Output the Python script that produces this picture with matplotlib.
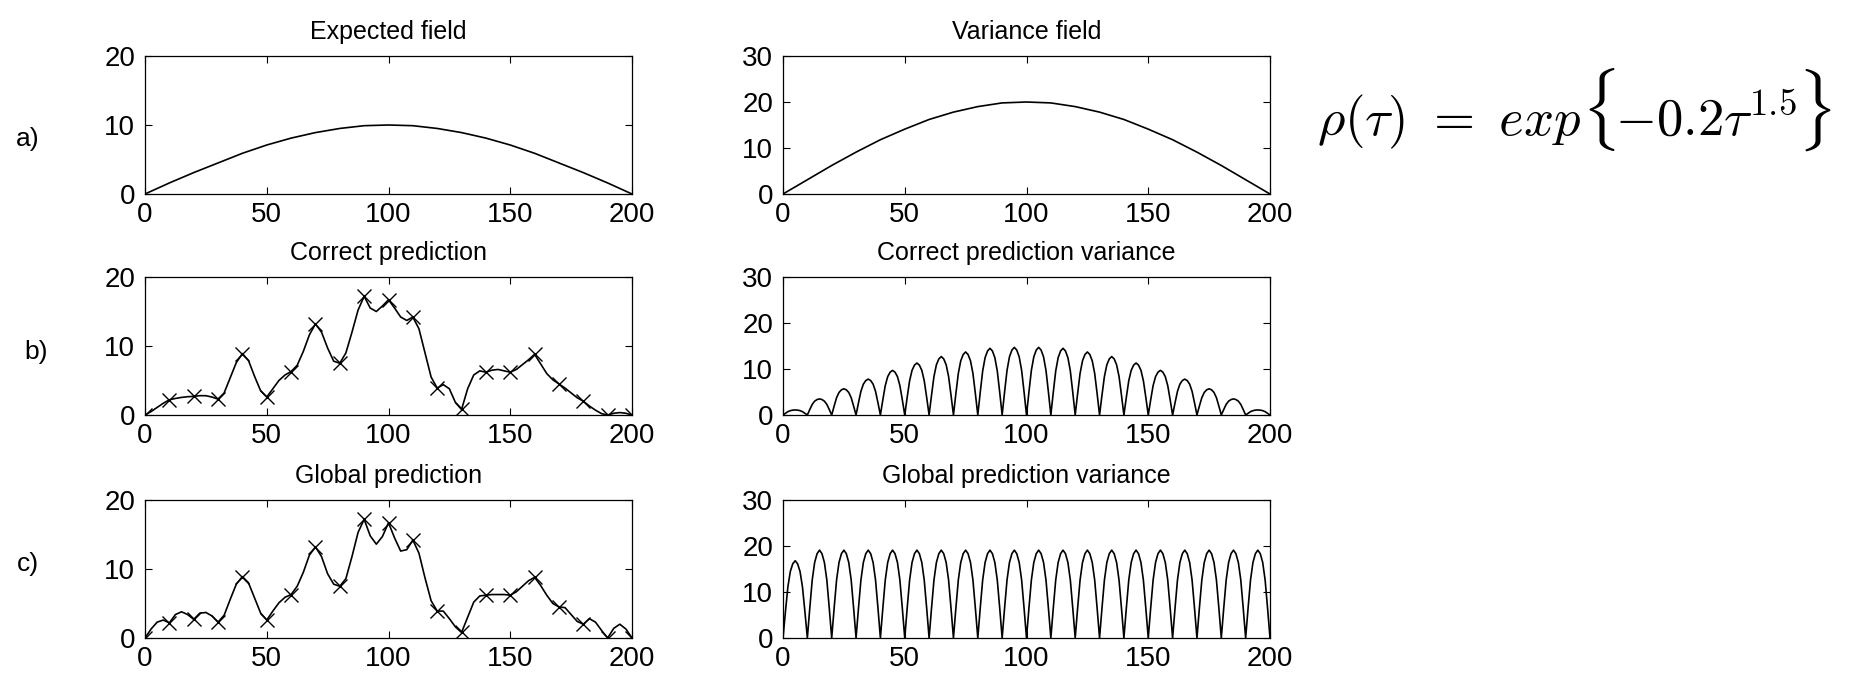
import matplotlib.pyplot as plt
import numpy as np
from matplotlib.offsetbox import TextArea, HPacker, AnnotationBbox

plt.rcParams['font.family'] = ['Liberation Sans', 'DejaVu Sans']
plt.rcParams['mathtext.fontset'] = 'cm'

# --- data ---
FIELD_X = np.arange(0, 201, 10)
EXPECTED = [0, 1.6, 3.1, 4.5, 5.9, 7.1, 8.1, 8.9, 9.5, 9.9, 10.0,
            9.9, 9.5, 8.9, 8.1, 7.1, 5.9, 4.5, 3.1, 1.6, 0]
VARIANCE = [0, 3.1, 6.2, 9.1, 11.8, 14.1, 16.2, 17.8, 19.0, 19.8, 20.0,
            19.8, 19.0, 17.8, 16.2, 14.1, 11.8, 9.1, 6.2, 3.1, 0]

# predictions sampled every 2.5; observations (crosses) sit every 10
CURVE_X = np.arange(0, 200.1, 2.5)
CORRECT_PRED = [0, 0.5, 1.1, 1.7, 2.2, 2.4, 2.55, 2.65, 2.7, 2.8, 2.8, 2.6,
                2.3, 3.2, 5.4, 7.6, 8.9, 7.9, 5.6, 3.5, 2.6, 3.8, 5.0, 5.8,
                6.3, 7.2, 9.2, 11.6, 13.2, 12.0, 9.7, 7.8, 7.5, 9.0, 12.0, 15.2,
                17.2, 15.5, 15.0, 15.8, 16.7, 15.5, 14.2, 13.7, 14.2, 12.5, 9.0, 5.5,
                3.9, 4.4, 3.8, 1.8, 0.8, 3.8, 5.8, 6.4, 6.2, 6.5, 6.6, 6.4,
                6.2, 6.6, 7.3, 8.0, 8.8, 7.4, 6.0, 5.1, 4.5, 3.9, 3.2, 2.5,
                2.0, 1.3, 0.7, 0.2, 0.0, 0.25, 0.35, 0.25, 0.0]
GLOBAL_PRED = [0, 1.3, 2.3, 2.6, 2.2, 3.4, 3.8, 3.4, 2.7, 3.6, 3.7, 3.2,
               2.3, 3.3, 5.6, 7.8, 8.9, 8.0, 5.8, 3.6, 2.6, 3.9, 5.1, 5.9,
               6.3, 7.5, 9.5, 12.0, 13.2, 11.8, 9.3, 7.8, 7.5, 8.6, 11.8, 15.3,
               17.2, 14.8, 13.6, 14.7, 16.7, 14.5, 12.6, 12.8, 14.2, 12.3, 8.7, 5.4,
               3.9, 3.9, 2.8, 1.6, 0.8, 3.0, 5.2, 6.1, 6.2, 6.3, 6.3, 6.3,
               6.2, 6.7, 7.5, 8.3, 8.8, 7.6, 6.2, 5.0, 4.5, 4.4, 3.4, 2.4,
               2.0, 2.8, 2.3, 1.1, 0.0, 1.4, 2.0, 1.3, 0.0]

# prediction variance: one arch between neighbouring observations
ARCH_PROFILE = [0, 0.34, 0.66, 0.86, 0.96, 1.0, 0.96, 0.86, 0.66, 0.34]
CORRECT_VAR_PEAKS = [1.1, 3.5, 5.7, 7.8, 9.7, 11.3, 12.7, 13.7, 14.5, 14.7,
                     14.7, 14.5, 13.7, 12.7, 11.3, 9.7, 7.8, 5.7, 3.5, 1.1]
GLOBAL_VAR_PEAKS = [16.8] + [19.1] * 19


def arches(peaks):
    ys = [p * f for p in peaks for f in ARCH_PROFILE] + [0]
    return np.arange(len(ys)), ys


def style(ax, ymax, title):
    ax.set_xlim(0, 200)
    ax.set_ylim(0, ymax)
    ax.set_xticks([0, 50, 100, 150, 200])
    ax.set_yticks(range(0, ymax + 1, 10))
    ax.tick_params(direction='in', top=True, right=True, length=5,
                   width=0.8, labelsize=20)
    ax.tick_params(axis='x', pad=6)
    ax.tick_params(axis='y', pad=7)
    for s in ax.spines.values():
        s.set_linewidth(0.9)
    ax.set_title(title, fontsize=18, pad=12)


fig = plt.figure(figsize=(18.61, 6.79), dpi=100)
W, H = 1861, 679
lefts = [145, 783]
bottoms = [194, 415, 638]
aw, ah = 487, 138
axes = [[fig.add_axes([l / W, 1 - b / H, aw / W, ah / H]) for l in lefts] for b in bottoms]

lw = 1.2
axes[0][0].plot(FIELD_X, EXPECTED, color='black', lw=lw)
style(axes[0][0], 20, 'Expected field')
axes[0][1].plot(FIELD_X, VARIANCE, color='black', lw=lw)
style(axes[0][1], 30, 'Variance field')

axes[1][0].plot(CURVE_X, CORRECT_PRED, color='black', lw=lw, marker='x',
                markevery=4, ms=10, mew=1.0)
style(axes[1][0], 20, 'Correct prediction')
ax_x, ax_y = arches(CORRECT_VAR_PEAKS)
axes[1][1].plot(ax_x, ax_y, color='black', lw=lw)
style(axes[1][1], 30, 'Correct prediction variance')

axes[2][0].plot(CURVE_X, GLOBAL_PRED, color='black', lw=lw, marker='x',
                markevery=4, ms=10, mew=1.0)
style(axes[2][0], 20, 'Global prediction')
ax_x, ax_y = arches(GLOBAL_VAR_PEAKS)
axes[2][1].plot(ax_x, ax_y, color='black', lw=lw)
style(axes[2][1], 30, 'Global prediction variance')

for lab, (x, y) in zip(['a)', 'b)', 'c)'], [(28, 139), (36, 352), (28, 564)]):
    fig.text(x / W, 1 - y / H, lab, fontsize=19, ha='center', va='center')

# formula, with braces drawn larger than the rest
fs = 38
parts = [(r'$\rho(\tau)\ =\ exp\,$', fs), (r'$\{$', fs * 1.3),
         (r'$-0.2\tau^{1.5}$', fs), (r'$\}$', fs * 1.3)]
boxes = [TextArea(t, textprops=dict(fontsize=s)) for t, s in parts]
pack = HPacker(children=boxes, align='baseline', pad=0, sep=0)
fig.add_artist(AnnotationBbox(pack, (1574 / W, 1 - 110 / H), xycoords='figure fraction',
                              frameon=False, box_alignment=(0.5, 0.5)))

fig.savefig('out.png', dpi=100)
